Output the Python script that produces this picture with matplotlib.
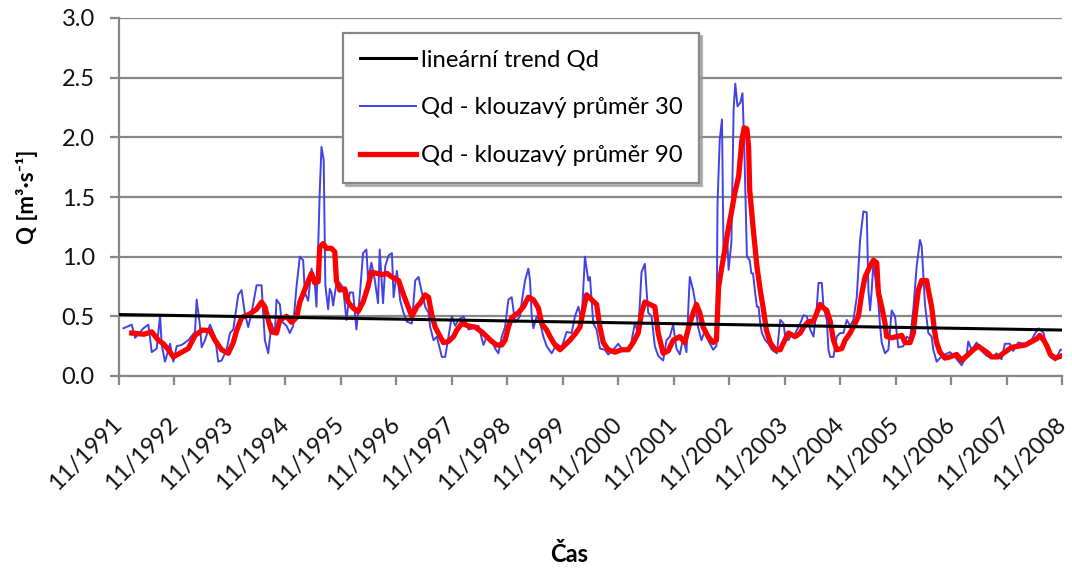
import numpy as np
import matplotlib
matplotlib.use('Agg')
import matplotlib.pyplot as plt
import matplotlib.transforms as mtransforms

plt.rcParams['font.family'] = ['Lato', 'DejaVu Sans']

# time axis: years since 11/1991
START = 1991 + 10 / 12
YEARS = list(range(1991, 2009))
tick_labels = ['11/%d' % y for y in YEARS]

# linear trend of Qd (start / end value)
trend_t = [0.0, 17.0]
trend_q = [0.515, 0.385]

# Qd - 30 day moving average
blue_t = [0.08, 0.23, 0.29, 0.44, 0.53, 0.59, 0.68, 0.74, 0.77, 0.83, 0.92, 0.98,
          1.04, 1.13, 1.25, 1.37, 1.40, 1.46, 1.49, 1.55, 1.64, 1.73, 1.79, 1.85,
          1.94, 2.00, 2.06, 2.15, 2.21, 2.27, 2.33, 2.39, 2.48, 2.57, 2.60, 2.63,
          2.69, 2.75, 2.81, 2.84, 2.90, 2.93, 3.02, 3.08, 3.14, 3.20, 3.26, 3.32,
          3.35, 3.41, 3.47, 3.53, 3.56, 3.62, 3.65, 3.69, 3.72, 3.77, 3.80, 3.83,
          3.86, 3.92, 3.98, 4.04, 4.10, 4.16, 4.22, 4.28, 4.34, 4.40, 4.46, 4.49,
          4.55, 4.61, 4.67, 4.70, 4.76, 4.80, 4.86, 4.92, 4.95, 5.01, 5.07, 5.13,
          5.19, 5.28, 5.34, 5.40, 5.46, 5.52, 5.58, 5.61, 5.67, 5.73, 5.82, 5.88,
          5.94, 6.00, 6.06, 6.12, 6.21, 6.30, 6.39, 6.48, 6.57, 6.63, 6.72, 6.78,
          6.84, 6.90, 6.96, 7.02, 7.08, 7.14, 7.23, 7.26, 7.32, 7.38, 7.41, 7.44,
          7.47, 7.53, 7.59, 7.65, 7.71, 7.80, 7.89, 7.98, 8.07, 8.16, 8.22, 8.28,
          8.34, 8.40, 8.46, 8.49, 8.52, 8.55, 8.61, 8.67, 8.76, 8.82, 8.91, 9.00,
          9.09, 9.21, 9.30, 9.36, 9.42, 9.48, 9.51, 9.54, 9.60, 9.66, 9.72, 9.81,
          9.87, 9.93, 9.99, 10.05, 10.11, 10.17, 10.23, 10.27, 10.29, 10.35, 10.38, 10.44,
          10.50, 10.57, 10.62, 10.71, 10.77, 10.79, 10.83, 10.87, 10.90, 10.96, 10.99, 11.04,
          11.08, 11.11, 11.15, 11.20, 11.24, 11.27, 11.32, 11.37, 11.40, 11.43, 11.47, 11.50,
          11.53, 11.56, 11.59, 11.65, 11.71, 11.77, 11.86, 11.92, 11.98, 12.01, 12.07, 12.13,
          12.16, 12.28, 12.34, 12.40, 12.46, 12.52, 12.58, 12.61, 12.67, 12.70, 12.76, 12.79,
          12.82, 12.88, 12.94, 13.00, 13.06, 13.12, 13.18, 13.24, 13.30, 13.36, 13.42, 13.48,
          13.51, 13.54, 13.57, 13.60, 13.66, 13.69, 13.72, 13.75, 13.81, 13.87, 13.93, 13.99,
          14.02, 14.05, 14.14, 14.20, 14.26, 14.32, 14.38, 14.44, 14.47, 14.53, 14.59, 14.65,
          14.68, 14.74, 14.80, 14.89, 14.98, 15.07, 15.19, 15.28, 15.31, 15.37, 15.46, 15.55,
          15.64, 15.73, 15.82, 15.91, 15.97, 16.06, 16.12, 16.21, 16.34, 16.46, 16.52, 16.58,
          16.67, 16.73, 16.79, 16.88, 16.97, 17.00]
blue_q = [0.40, 0.43, 0.32, 0.40, 0.43, 0.20, 0.23, 0.51, 0.26, 0.12, 0.27, 0.12,
          0.25, 0.26, 0.30, 0.37, 0.64, 0.42, 0.24, 0.30, 0.43, 0.33, 0.12, 0.13,
          0.22, 0.36, 0.39, 0.68, 0.72, 0.52, 0.41, 0.53, 0.76, 0.76, 0.52, 0.30,
          0.19, 0.44, 0.36, 0.64, 0.60, 0.46, 0.42, 0.36, 0.42, 0.75, 1.00, 0.97,
          0.70, 0.63, 0.90, 0.78, 0.58, 1.56, 1.92, 1.81, 0.76, 0.56, 0.73, 0.70,
          0.59, 0.78, 0.78, 0.74, 0.47, 0.70, 0.70, 0.39, 0.67, 1.03, 1.06, 0.81,
          0.95, 0.81, 0.61, 1.06, 0.61, 0.92, 1.01, 1.03, 0.66, 0.88, 0.63, 0.53,
          0.455, 0.44, 0.80, 0.83, 0.70, 0.58, 0.53, 0.41, 0.30, 0.33, 0.16, 0.16,
          0.33, 0.50, 0.42, 0.47, 0.50, 0.39, 0.40, 0.42, 0.26, 0.33, 0.30, 0.23,
          0.19, 0.33, 0.41, 0.64, 0.66, 0.45, 0.50, 0.62, 0.80, 0.90, 0.80, 0.50,
          0.40, 0.50, 0.45, 0.33, 0.25, 0.19, 0.27, 0.24, 0.37, 0.36, 0.50, 0.58,
          0.47, 1.00, 0.80, 0.83, 0.64, 0.44, 0.39, 0.23, 0.22, 0.18, 0.22, 0.27,
          0.21, 0.22, 0.44, 0.36, 0.87, 0.94, 0.72, 0.53, 0.50, 0.25, 0.17, 0.13,
          0.30, 0.33, 0.43, 0.23, 0.18, 0.32, 0.20, 0.64, 0.83, 0.72, 0.64, 0.41,
          0.30, 0.39, 0.30, 0.22, 0.25, 1.45, 1.98, 2.15, 0.97, 1.20, 0.89, 1.12,
          2.23, 2.45, 2.26, 2.29, 2.37, 1.96, 1.00, 0.97, 0.86, 0.86, 0.69, 0.58,
          0.58, 0.44, 0.36, 0.30, 0.27, 0.22, 0.19, 0.47, 0.44, 0.33, 0.30, 0.36,
          0.33, 0.44, 0.51, 0.50, 0.39, 0.33, 0.58, 0.78, 0.78, 0.58, 0.47, 0.22,
          0.16, 0.16, 0.33, 0.36, 0.36, 0.47, 0.42, 0.47, 0.66, 1.14, 1.38, 1.37,
          0.72, 0.55, 0.72, 0.95, 0.72, 0.61, 0.42, 0.28, 0.19, 0.22, 0.55, 0.50,
          0.36, 0.24, 0.25, 0.33, 0.31, 0.56, 0.92, 1.14, 1.09, 0.60, 0.36, 0.33,
          0.22, 0.12, 0.15, 0.18, 0.20, 0.16, 0.09, 0.17, 0.29, 0.22, 0.28, 0.21,
          0.17, 0.15, 0.19, 0.14, 0.27, 0.27, 0.21, 0.28, 0.27, 0.31, 0.36, 0.40,
          0.36, 0.22, 0.16, 0.13, 0.22, 0.22]

# Qd - 90 day moving average
red_t = [0.23, 0.45, 0.59, 0.71, 0.80, 0.89, 0.98, 1.13, 1.25, 1.37, 1.50, 1.64,
         1.73, 1.85, 1.97, 2.06, 2.12, 2.21, 2.36, 2.48, 2.57, 2.63, 2.69, 2.75,
         2.84, 2.90, 3.02, 3.11, 3.20, 3.26, 3.32, 3.38, 3.47, 3.53, 3.59, 3.62,
         3.68, 3.74, 3.83, 3.89, 3.92, 3.98, 4.07, 4.13, 4.22, 4.31, 4.40, 4.49,
         4.55, 4.65, 4.74, 4.83, 4.92, 5.04, 5.13, 5.22, 5.28, 5.37, 5.43, 5.52,
         5.58, 5.64, 5.70, 5.79, 5.85, 5.94, 6.03, 6.09, 6.18, 6.30, 6.42, 6.54,
         6.63, 6.72, 6.81, 6.90, 6.96, 7.02, 7.08, 7.20, 7.29, 7.38, 7.47, 7.56,
         7.62, 7.71, 7.77, 7.86, 7.95, 8.04, 8.13, 8.22, 8.31, 8.37, 8.43, 8.52,
         8.61, 8.67, 8.73, 8.82, 8.94, 9.06, 9.18, 9.27, 9.36, 9.42, 9.48, 9.57,
         9.66, 9.72, 9.81, 9.90, 9.99, 10.11, 10.20, 10.27, 10.35, 10.41, 10.47, 10.53,
         10.62, 10.71, 10.77, 10.81, 10.87, 10.93, 10.99, 11.04, 11.10, 11.17, 11.23, 11.27,
         11.32, 11.35, 11.37, 11.43, 11.50, 11.56, 11.62, 11.67, 11.74, 11.83, 11.92, 11.98,
         12.07, 12.19, 12.28, 12.34, 12.43, 12.52, 12.58, 12.64, 12.70, 12.76, 12.82, 12.88,
         12.94, 13.03, 13.09, 13.18, 13.27, 13.33, 13.39, 13.45, 13.54, 13.60, 13.66, 13.69,
         13.75, 13.81, 13.84, 13.93, 14.02, 14.11, 14.17, 14.26, 14.32, 14.35, 14.41, 14.47,
         14.56, 14.59, 14.65, 14.70, 14.74, 14.80, 14.89, 14.98, 15.10, 15.19, 15.31, 15.40,
         15.49, 15.58, 15.67, 15.73, 15.85, 15.97, 16.09, 16.21, 16.34, 16.46, 16.54, 16.60,
         16.67, 16.73, 16.79, 16.88, 17.00]
red_q = [0.36, 0.35, 0.37, 0.30, 0.27, 0.22, 0.16, 0.20, 0.23, 0.34, 0.385, 0.38,
         0.30, 0.22, 0.19, 0.28, 0.38, 0.49, 0.52, 0.56, 0.62, 0.58, 0.47, 0.37,
         0.36, 0.47, 0.50, 0.45, 0.49, 0.62, 0.69, 0.76, 0.86, 0.78, 0.79, 1.08,
         1.11, 1.07, 1.07, 1.04, 0.80, 0.72, 0.73, 0.62, 0.57, 0.54, 0.62, 0.75,
         0.87, 0.86, 0.85, 0.86, 0.83, 0.80, 0.68, 0.57, 0.50, 0.58, 0.61, 0.68,
         0.66, 0.51, 0.41, 0.33, 0.28, 0.29, 0.33, 0.385, 0.44, 0.42, 0.41, 0.37,
         0.33, 0.29, 0.26, 0.26, 0.30, 0.41, 0.49, 0.53, 0.58, 0.66, 0.64, 0.57,
         0.44, 0.385, 0.33, 0.26, 0.22, 0.26, 0.30, 0.35, 0.41, 0.55, 0.68, 0.64,
         0.60, 0.41, 0.28, 0.22, 0.20, 0.22, 0.22, 0.28, 0.36, 0.53, 0.62, 0.60,
         0.58, 0.36, 0.19, 0.21, 0.30, 0.33, 0.28, 0.41, 0.53, 0.60, 0.53, 0.41,
         0.33, 0.28, 0.30, 0.75, 0.92, 1.08, 1.25, 1.37, 1.53, 1.67, 1.98, 2.08,
         2.07, 1.92, 1.56, 1.25, 0.92, 0.72, 0.55, 0.385, 0.28, 0.22, 0.22, 0.28,
         0.36, 0.33, 0.36, 0.41, 0.455, 0.46, 0.53, 0.60, 0.57, 0.55, 0.46, 0.30,
         0.22, 0.23, 0.30, 0.36, 0.44, 0.50, 0.69, 0.83, 0.92, 0.97, 0.95, 0.70,
         0.58, 0.44, 0.33, 0.32, 0.33, 0.34, 0.28, 0.28, 0.36, 0.50, 0.72, 0.80,
         0.80, 0.72, 0.58, 0.385, 0.28, 0.20, 0.15, 0.16, 0.18, 0.13, 0.18, 0.22,
         0.25, 0.22, 0.19, 0.16, 0.16, 0.20, 0.24, 0.25, 0.26, 0.29, 0.31, 0.34,
         0.30, 0.25, 0.18, 0.15, 0.17]

W, H = 1072, 570
fig = plt.figure(figsize=(W / 100, H / 100), dpi=100)
ax = fig.add_axes([119 / W, 1 - 376 / H, (1062 - 119) / W, (376 - 18) / H])

GRAY = '#878787'

ax.plot(START + np.array(blue_t), blue_q, color='#4242E6', lw=1.4,
        label='Qd - klouzavý průměr 30', zorder=3)
ax.plot(START + np.array(red_t), red_q, color='#FF0000', lw=3.8,
        label='Qd - klouzavý průměr 90', zorder=4)
ax.plot(START + np.array(trend_t), trend_q, color='black', lw=2.2,
        label='lineární trend Qd', zorder=5)

ax.set_xlim(START, START + 17)
ax.set_ylim(0, 3.0)
ax.set_yticks(np.arange(0, 3.01, 0.5))
ax.set_yticklabels(['%.1f' % v for v in np.arange(0, 3.01, 0.5)])
ax.set_xticks([START + i for i in range(len(YEARS))])
ax.set_xticklabels(tick_labels, rotation=45, ha='right', va='center',
                   rotation_mode='anchor')
shift = mtransforms.ScaledTranslation(3 / 100, 0, fig.dpi_scale_trans)
for lab in ax.get_xticklabels():
    lab.set_transform(lab.get_transform() + shift)

ax.yaxis.grid(True, color=GRAY, lw=1.6)
ax.set_axisbelow(True)
for s in ['top', 'right']:
    ax.spines[s].set_visible(False)
for s in ['left', 'bottom']:
    ax.spines[s].set_color(GRAY)
    ax.spines[s].set_linewidth(1.6)
ax.tick_params(axis='both', colors=GRAY, width=1.6, length=6.5,
               labelcolor='#111111', labelsize=17)
ax.tick_params(axis='y', pad=11)
ax.tick_params(axis='x', pad=26)

fig.text(27 / W, 1 - 197 / H, 'Q [m³·s⁻¹]', rotation=90, fontsize=16,
         fontweight='bold', ha='center', va='center')
fig.text(569 / W, 1 - 554 / H, 'Čas', fontsize=17, fontweight='bold',
         ha='center', va='center')

h, l = ax.get_legend_handles_labels()
order = [2, 0, 1]
leg = ax.legend([h[i] for i in order], [l[i] for i in order],
                loc='upper left', bbox_to_anchor=(343 / W, 1 - 33 / H),
                bbox_transform=fig.transFigure, fontsize=17.2,
                frameon=True, fancybox=False,
                shadow={'color': '#999999', 'alpha': 0.7},
                edgecolor=GRAY, borderaxespad=0, borderpad=0.7,
                handlelength=2.35, handletextpad=0.2, labelspacing=1.12)
leg.get_frame().set_linewidth(1.6)
leg.set_zorder(10)

fig.savefig('out.png', dpi=100)
